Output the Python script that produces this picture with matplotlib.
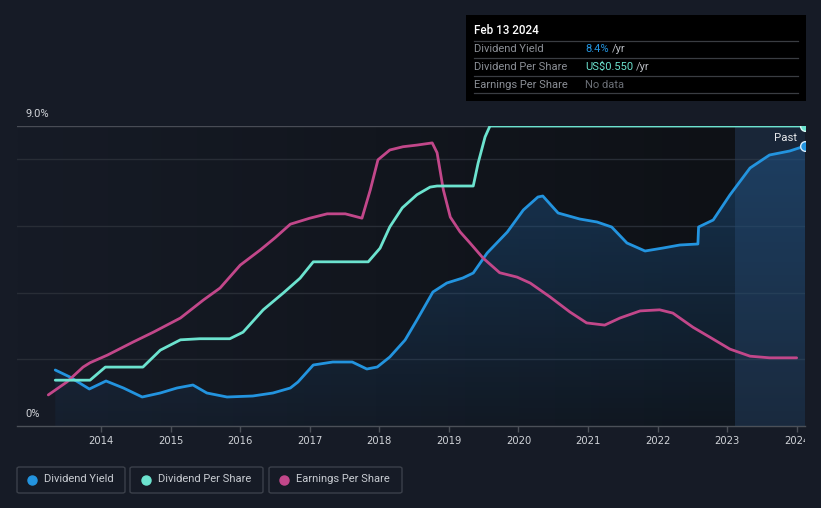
import matplotlib
matplotlib.use("Agg")
import matplotlib.pyplot as plt
import numpy as np
from matplotlib.patches import FancyBboxPatch, Rectangle
from matplotlib.transforms import Bbox, TransformedBbox
from matplotlib.lines import Line2D

plt.rcParams['font.family'] = ['Roboto', 'DejaVu Sans']

# ---------------- data ----------------
yield_years = [2013.34, 2013.55, 2013.83, 2014.07, 2014.32, 2014.59, 2014.85, 2015.09, 2015.32,
               2015.52, 2015.81, 2016.18, 2016.47, 2016.72, 2016.83, 2017.05, 2017.33, 2017.61,
               2017.82, 2017.97, 2018.15, 2018.37, 2018.54, 2018.77, 2018.97, 2019.20, 2019.35,
               2019.55, 2019.84, 2020.07, 2020.28, 2020.35, 2020.57, 2020.88, 2021.13, 2021.34,
               2021.56, 2021.82, 2022.08, 2022.32, 2022.58, 2022.59, 2022.80, 2023.04, 2023.33,
               2023.61, 2023.90, 2024.12]
yield_pct = [1.68, 1.47, 1.11, 1.35, 1.14, 0.87, 0.99, 1.14, 1.23,
             0.99, 0.87, 0.90, 0.99, 1.14, 1.32, 1.83, 1.92, 1.92,
             1.71, 1.77, 2.07, 2.58, 3.18, 4.02, 4.29, 4.44, 4.59,
             5.19, 5.82, 6.48, 6.87, 6.90, 6.39, 6.21, 6.12, 5.97,
             5.49, 5.25, 5.34, 5.43, 5.46, 5.97, 6.18, 6.93, 7.74,
             8.13, 8.25, 8.40]

dps_years = [2013.34, 2013.84, 2014.06, 2014.60, 2014.85, 2015.14, 2015.42, 2015.85, 2016.04,
             2016.33, 2016.62, 2016.86, 2017.05, 2017.84, 2018.01, 2018.15, 2018.33, 2018.54,
             2018.73, 2018.83, 2019.35, 2019.42, 2019.52, 2019.59, 2024.12]
dps_usd = [0.084, 0.084, 0.108, 0.108, 0.139, 0.158, 0.160, 0.160, 0.172,
           0.213, 0.244, 0.271, 0.301, 0.301, 0.326, 0.365, 0.400, 0.424,
           0.438, 0.440, 0.440, 0.482, 0.530, 0.550, 0.550]

eps_years = [2013.24, 2013.51, 2013.74, 2013.84, 2014.09, 2014.46, 2014.75, 2015.14, 2015.47,
             2015.71, 2016.00, 2016.29, 2016.50, 2016.72, 2017.00, 2017.25, 2017.51, 2017.75,
             2017.87, 2017.98, 2018.15, 2018.34, 2018.54, 2018.76, 2018.83, 2018.92, 2019.02,
             2019.16, 2019.30, 2019.49, 2019.73, 2019.98, 2020.17, 2020.45, 2020.74, 2020.98,
             2021.24, 2021.46, 2021.75, 2022.03, 2022.22, 2022.51, 2022.75, 2023.04, 2023.33,
             2023.61, 2024.00]
eps_usd = [0.057, 0.081, 0.108, 0.116, 0.130, 0.154, 0.172, 0.198, 0.231,
           0.253, 0.295, 0.323, 0.345, 0.370, 0.381, 0.389, 0.389, 0.381,
           0.433, 0.488, 0.506, 0.512, 0.515, 0.519, 0.501, 0.433, 0.383,
           0.356, 0.336, 0.308, 0.281, 0.273, 0.262, 0.237, 0.209, 0.189,
           0.185, 0.198, 0.211, 0.213, 0.207, 0.181, 0.163, 0.141, 0.128,
           0.125, 0.125]

tick_years = list(range(2014, 2025))
tick_labels = [str(y) for y in tick_years]
past_start = 2023.11
x_min, x_max = 2012.79, 2024.12

# ---------------- colors ----------------
BG = '#161b26'
BLUE = '#2394df'
TEAL = '#6ce3cf'
PINK = '#c2478a'
TXT = '#d0d3d8'
GRID = '#282d36'

W, H = 821, 508
fig = plt.figure(figsize=(W / 100, H / 100), dpi=100, facecolor=BG)
ax = fig.add_axes([17 / W, 1 - 426 / H, 788 / W, 300 / H])
ax.set_facecolor(BG)
ax.set_xlim(x_min, x_max)
ax.set_ylim(0, 9)

# background horizontal gradient
c0 = np.array(matplotlib.colors.to_rgb('#161b26'))
c1 = np.array(matplotlib.colors.to_rgb('#0e1116'))
t = np.linspace(0, 1, 256)
grad = (c0[None, :] * (1 - t[:, None]) + c1[None, :] * t[:, None])[None, :, :]
ax.imshow(grad, extent=[x_min, past_start, 0, 9], aspect='auto', zorder=0, interpolation='bilinear')

# grid lines
for gv in [2, 4, 6, 8]:
    ax.axhline(gv, color=GRID, lw=1.0, zorder=1)
ax.axhline(9, color='#484c55', lw=1.0, zorder=1)

# blue fill with vertical gradient
fill = ax.fill_between(yield_years, yield_pct, 0, color='none', lw=0, zorder=2)
gy = np.linspace(1, 0, 256)
rgba = np.zeros((256, 1, 4))
rgba[:, 0, 0] = 0.12
rgba[:, 0, 1] = 0.34
rgba[:, 0, 2] = 0.55
rgba[:, 0, 3] = 0.08 + 0.45 * gy
im = ax.imshow(rgba, extent=[x_min, x_max, 0, 9], aspect='auto', zorder=2, interpolation='bilinear')
path = fill.get_paths()[0]
im.set_clip_path(path, transform=ax.transData)

# past region
ax.axvspan(past_start, x_max, color='#2a5b8a', alpha=0.18, lw=0, zorder=3)

# lines
ax2 = ax.twinx()
ax2.set_ylim(0, 0.55)
ax2.axis('off')
ax2.set_position(ax.get_position())

kw = dict(lw=2.0, solid_capstyle='round', solid_joinstyle='round')
ax.plot(yield_years, yield_pct, color=BLUE, zorder=5, **kw)
ax2.plot(dps_years, dps_usd, color=TEAL, zorder=5, **kw)
ax2.plot(eps_years, eps_usd, color=PINK, zorder=4, **kw)

ax2.plot([dps_years[-1]], [dps_usd[-1]], 'o', ms=7, color=TEAL, mec='#d8f7f1', mew=1.0, zorder=6)
ax.plot([yield_years[-1]], [yield_pct[-1]], 'o', ms=7, color=BLUE, mec='#d6ebfa', mew=1.0, zorder=6)

ax.text(2024.12 - 0.12, 8.65, 'Past', color='#e6e8eb', fontsize=8.2, ha='right', va='center', zorder=7)

# axes styling
for s in ['top', 'right', 'left']:
    ax.spines[s].set_visible(False)
ax.spines['bottom'].set_color('#4b5058')
ax.spines['bottom'].set_linewidth(1.0)
ax.set_yticks([])
ax.set_xticks(tick_years)
ax.set_xticklabels(tick_labels)
ax.tick_params(axis='x', colors='#4b5058', length=4, width=1, pad=3, labelcolor=TXT, labelsize=8)
clipbox = TransformedBbox(Bbox([[0, 0], [805 / W, 1]]), fig.transFigure)
for lbl in ax.get_xticklabels():
    lbl.set_family(['DejaVu Sans'])
    lbl.set_fontstretch('condensed')
    lbl.set_fontsize(8)
    lbl.set_clip_box(clipbox)
    lbl.set_clip_on(True)

def px(x, y):
    return x / W, 1 - y / H

# y labels
fig.text(*px(25, 114), '9.0%', color=TXT, fontsize=8, ha='left', va='center')
fig.text(*px(25, 414), '0%', color=TXT, fontsize=8, ha='left', va='center')

# tooltip box
x0, y0 = px(466, 101)
fig.patches.append(Rectangle((x0, y0), 340 / W, 86 / H, transform=fig.transFigure,
                             facecolor='#000000', edgecolor='none', zorder=10))
fig.text(*px(474, 31), 'Feb 13 2024', color='#ffffff', fontsize=8.4, fontweight='medium',
         ha='left', va='center', zorder=11)
for sy in [41, 58, 76, 93]:
    fig.add_artist(Line2D([474 / W, 798 / W], [1 - sy / H, 1 - sy / H], color='#3a3d42', lw=0.9,
                          transform=fig.transFigure, zorder=11))
rows = [('Dividend Yield', '8.4%', BLUE, 612), ('Dividend Per Share', 'US$0.550', TEAL, 636),
        ('Earnings Per Share', 'No data', '#6b6f76', None)]
for i, (lab, val, col, sx) in enumerate(rows):
    yy = [49.5, 66.5, 84.5][i]
    fig.text(*px(474, yy), lab, color='#8b8f96', fontsize=8, ha='left', va='center', zorder=11)
    fig.text(*px(585, yy), val, color=col, fontsize=8, ha='left', va='center', zorder=11)
    if sx:
        fig.text(*px(sx, yy), '/yr', color='#b8bcc2', fontsize=8, ha='left', va='center', zorder=11)

# legend boxes
legend = [(17, 125, 32, 44, 'Dividend Yield', BLUE), (130, 263, 146, 158, 'Dividend Per Share', TEAL),
          (269, 402, 284, 296, 'Earnings Per Share', PINK)]
for bx0, bx1, dx, tx, lab, col in legend:
    fx0, fy0 = px(bx0, 493)
    fig.patches.append(FancyBboxPatch((fx0, fy0), (bx1 - bx0) / W, 26 / H,
                                      boxstyle='round,pad=0,rounding_size=0.003',
                                      transform=fig.transFigure, facecolor='none',
                                      edgecolor='#3b404a', lw=1.0, zorder=10))
    fig.add_artist(Line2D([dx / W], [1 - 479.5 / H], marker='o', ms=6.5, color=col, lw=0,
                          transform=fig.transFigure, zorder=11))
    fig.text(*px(tx, 479.5), lab, color='#c8ccd2', fontsize=8, ha='left', va='center', zorder=11)

fig.savefig('out.png', dpi=100, facecolor=BG)
